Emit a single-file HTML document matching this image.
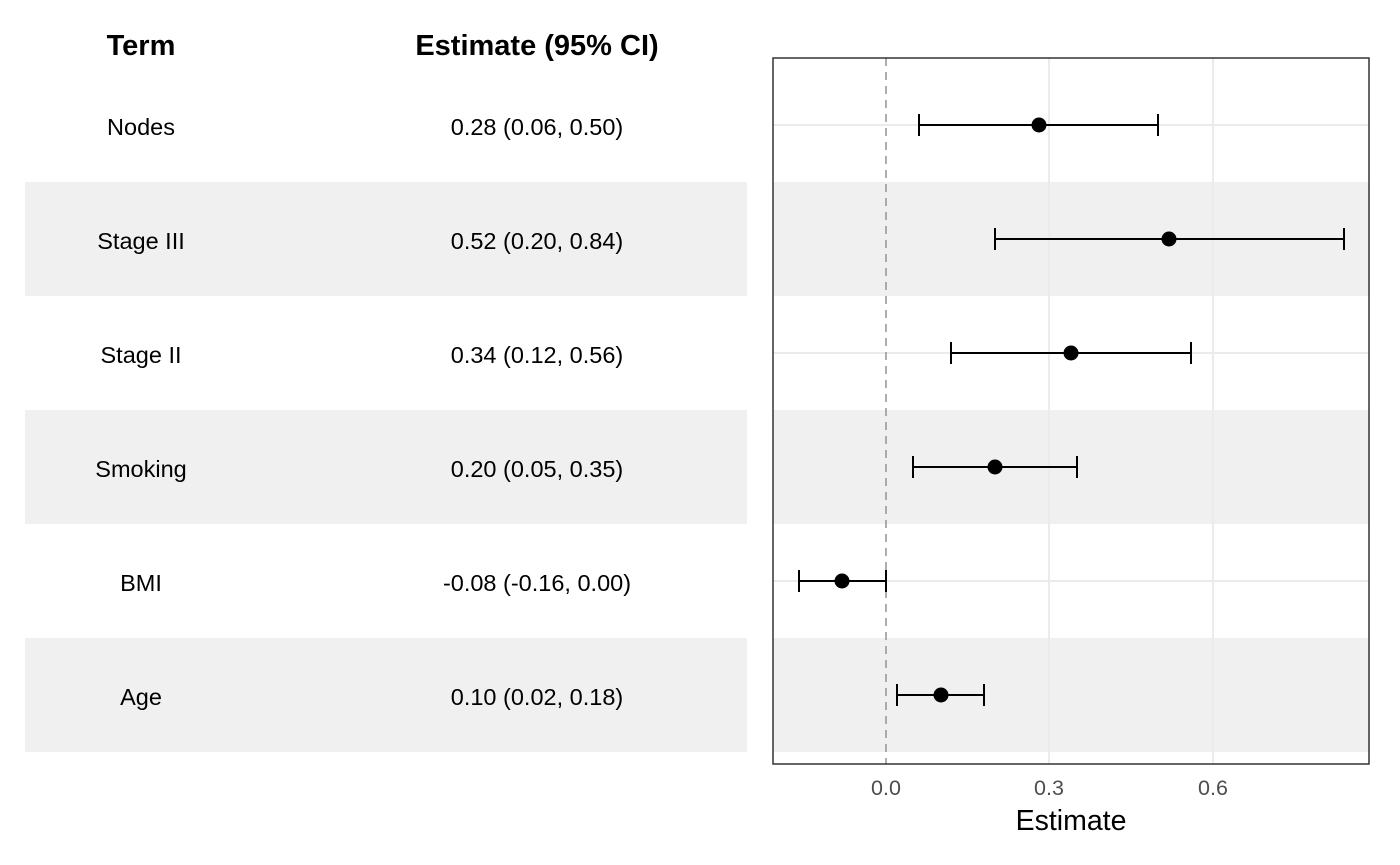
<!DOCTYPE html>
<html><head><meta charset="utf-8"><style>
html,body{margin:0;padding:0;background:#fff;}
svg{display:block;font-family:"Liberation Sans",Arial,sans-serif;}
</style></head><body>
<svg width="1400" height="865" xmlns="http://www.w3.org/2000/svg">
<rect x="25" y="182" width="722" height="114" fill="#f0f0f0"/>
<rect x="25" y="410" width="722" height="114" fill="#f0f0f0"/>
<rect x="25" y="638" width="722" height="114" fill="#f0f0f0"/>
<text x="141" y="55" font-size="29" font-weight="bold" text-anchor="middle">Term</text>
<text x="537" y="55" font-size="29" font-weight="bold" text-anchor="middle">Estimate (95% CI)</text>
<g font-size="23.5" text-anchor="middle">
<text x="141" y="135">Nodes</text><text x="537" y="135">0.28 (0.06, 0.50)</text>
<text x="141" y="249">Stage III</text><text x="537" y="249">0.52 (0.20, 0.84)</text>
<text x="141" y="363">Stage II</text><text x="537" y="363">0.34 (0.12, 0.56)</text>
<text x="141" y="477">Smoking</text><text x="537" y="477">0.20 (0.05, 0.35)</text>
<text x="141" y="591">BMI</text><text x="537" y="591">-0.08 (-0.16, 0.00)</text>
<text x="141" y="705">Age</text><text x="537" y="705">0.10 (0.02, 0.18)</text>
</g>
<rect x="773" y="182" width="596" height="114" fill="#f0f0f0"/>
<rect x="773" y="410" width="596" height="114" fill="#f0f0f0"/>
<rect x="773" y="638" width="596" height="114" fill="#f0f0f0"/>
<g stroke="#ebebeb" stroke-width="2">
<line x1="1049" y1="58" x2="1049" y2="764"/>
<line x1="1213" y1="58" x2="1213" y2="764"/>
<line x1="773" y1="125" x2="1369" y2="125"/>
<line x1="773" y1="353" x2="1369" y2="353"/>
<line x1="773" y1="581" x2="1369" y2="581"/>
</g>
<line x1="886" y1="58" x2="886" y2="764" stroke="#999" stroke-width="1.6" stroke-dasharray="8,6"/>
<g stroke="#000" stroke-width="2" fill="none">
<path d="M919 125H1158M919 114V136M1158 114V136"/>
<path d="M995 239H1344M995 228V250M1344 228V250"/>
<path d="M951 353H1191M951 342V364M1191 342V364"/>
<path d="M913 467H1077M913 456V478M1077 456V478"/>
<path d="M799 581H886M799 570V592M886 570V592"/>
<path d="M897 695H984M897 684V706M984 684V706"/>
</g>
<g fill="#000">
<circle cx="1039" cy="125" r="7.5"/><circle cx="1169" cy="239" r="7.5"/>
<circle cx="1071" cy="353" r="7.5"/><circle cx="995" cy="467" r="7.5"/>
<circle cx="842" cy="581" r="7.5"/><circle cx="941" cy="695" r="7.5"/>
</g>
<rect x="773" y="58" width="596" height="706" fill="none" stroke="#333" stroke-width="1.5"/>
<g font-size="21.5" fill="#4d4d4d" text-anchor="middle">
<text x="886" y="795">0.0</text><text x="1049" y="795">0.3</text><text x="1213" y="795">0.6</text>
</g>
<text x="1071" y="830" font-size="28.5" text-anchor="middle">Estimate</text>
</svg>
</body></html>
